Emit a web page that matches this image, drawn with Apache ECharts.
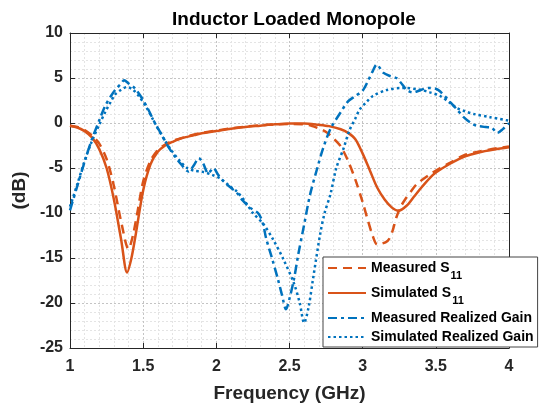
<!DOCTYPE html>
<html><head><meta charset="utf-8">
<script src="https://cdn.jsdelivr.net/npm/echarts@6/dist/echarts.min.js"></script>
<style>html,body{margin:0;padding:0;background:#fff}#c{width:540px;height:408px}</style>
</head><body><div id="c"></div>
<script>
const title = 'Inductor Loaded Monopole';
const xName = 'Frequency (GHz)';
const yName = '(dB)';
const xTicks = [1, 1.5, 2, 2.5, 3, 3.5, 4];
const yTicks = [-25, -20, -15, -10, -5, 0, 5, 10];

const seriesNames = ['Measured S11', 'Simulated S11', 'Measured Realized Gain', 'Simulated Realized Gain'];

const measS11F = [1.0,1.05,1.1,1.15,1.2,1.25,1.3,1.35,1.4,1.43,1.46,1.5,1.55,1.6,1.65,1.7,1.8,1.9,2.0,2.1,2.2,2.3,2.4,2.5,2.6,2.65,2.7,2.75,2.8,2.85,2.9,2.95,3.0,3.03,3.07,3.1,3.17,3.2,3.23,3.26,3.29,3.33,3.37,3.45,3.53,3.6,3.69,3.8,3.85,3.92,4.0];
const measS11V = [-0.3,-0.45,-0.8,-1.4,-2.3,-4.0,-7.0,-11.0,-14.0,-12.5,-10.0,-6.5,-4.2,-3.0,-2.4,-2.0,-1.5,-1.1,-0.85,-0.6,-0.4,-0.25,-0.15,-0.1,-0.15,-0.3,-0.6,-1.0,-1.7,-2.6,-4.2,-6.3,-8.8,-10.5,-12.6,-13.5,-13.1,-12.2,-10.5,-9.3,-8.5,-7.6,-6.8,-5.8,-5.0,-4.4,-3.6,-3.15,-3.0,-2.8,-2.6];

const simS11F = [1.0,1.05,1.1,1.15,1.2,1.25,1.3,1.35,1.39,1.42,1.45,1.5,1.55,1.6,1.65,1.7,1.76,1.85,1.9,2.0,2.1,2.2,2.3,2.4,2.5,2.6,2.7,2.77,2.85,2.9,2.95,3.0,3.05,3.1,3.15,3.2,3.245,3.3,3.35,3.4,3.46,3.5,3.6,3.7,3.8,3.9,4.0];
const simS11V = [-0.3,-0.5,-0.9,-1.6,-2.9,-5.0,-8.5,-13.0,-16.6,-15.0,-12.3,-7.5,-4.6,-3.2,-2.5,-2.1,-1.7,-1.35,-1.15,-0.9,-0.65,-0.45,-0.3,-0.15,-0.05,-0.05,-0.2,-0.35,-0.7,-1.1,-1.8,-3.4,-5.3,-7.2,-8.5,-9.4,-9.75,-9.2,-8.2,-7.2,-6.1,-5.5,-4.5,-3.7,-3.25,-2.95,-2.7];

const measGainF = [1.0,1.05,1.1,1.15,1.2,1.24,1.28,1.31,1.35,1.37,1.4,1.44,1.49,1.535,1.58,1.63,1.67,1.72,1.76,1.81,1.85,1.88,1.91,1.945,1.98,2.01,2.05,2.1,2.14,2.18,2.23,2.29,2.32,2.34,2.38,2.42,2.45,2.476,2.5,2.53,2.56,2.6,2.64,2.69,2.73,2.78,2.85,2.9,2.95,3.0,3.04,3.07,3.096,3.14,3.19,3.23,3.26,3.3,3.34,3.37,3.42,3.46,3.5,3.53,3.6,3.65,3.69,3.74,3.78,3.84,3.88,3.92,3.96,4.0];
const measGainV = [-9.7,-7.0,-4.3,-1.8,0.3,1.9,3.0,3.7,4.4,4.75,4.4,3.9,2.8,1.5,0.0,-1.4,-2.6,-3.8,-4.6,-5.4,-4.6,-3.9,-4.5,-5.6,-5.0,-5.7,-6.5,-7.2,-7.75,-8.6,-9.4,-10.1,-11.3,-12.8,-15.0,-17.3,-19.2,-20.7,-19.5,-17.4,-14.6,-11.3,-8.0,-5.0,-2.8,-0.65,1.2,2.4,3.0,3.6,4.8,5.8,6.5,5.6,5.2,5.0,4.5,3.7,3.4,3.5,3.8,3.9,3.8,3.5,2.3,1.4,0.65,0.0,-0.3,-0.45,-0.5,-1.1,-0.65,0.0];

const simGainF = [1.0,1.05,1.1,1.15,1.2,1.24,1.28,1.31,1.35,1.39,1.43,1.47,1.52,1.56,1.6,1.65,1.7,1.75,1.8,1.85,1.9,1.97,2.03,2.09,2.14,2.2,2.25,2.32,2.39,2.46,2.53,2.57,2.6,2.63,2.66,2.71,2.74,2.78,2.82,2.87,2.91,2.95,2.98,3.03,3.07,3.16,3.28,3.39,3.46,3.53,3.6,3.64,3.7,3.76,3.87,4.0];
const simGainV = [-9.3,-6.8,-4.2,-2.0,-0.2,1.2,2.4,3.2,3.7,4.0,3.7,3.0,1.8,0.6,-0.6,-2.0,-3.2,-4.2,-5.0,-5.3,-5.4,-5.75,-6.2,-7.0,-7.6,-8.8,-10.0,-11.2,-13.0,-15.2,-17.8,-20.0,-22.2,-20.5,-17.4,-12.3,-10.0,-7.9,-5.0,-2.8,-0.8,0.5,1.5,2.4,3.0,3.65,3.9,3.7,3.4,3.0,2.2,1.7,1.3,1.0,0.65,0.25];

const zip = (f, v) => f.map((x, i) => [x, v[i]]);
const orange = '#D95319', blue = '#0072BD', axisCol = '#262626';
const FONT = 'Liberation Sans, Arial, sans-serif';

const chart = echarts.init(document.getElementById('c'), null, {renderer: 'canvas'});
const xMin = xTicks[0], xMax = xTicks[xTicks.length - 1];
const yMin = yTicks[0], yMax = yTicks[yTicks.length - 1];
const baseX = {
  type: 'value', min: xMin, max: xMax, interval: 0.5,
  axisLine: {show: true, onZero: false, lineStyle: {color: axisCol, width: 1}},
  axisTick: {show: true, inside: true, length: 5, lineStyle: {color: axisCol}},
  minorTick: {show: false, splitNumber: 5},
  splitLine: {show: true, lineStyle: {color: '#c4c4c4', type: [2, 2], width: 1}},
  minorSplitLine: {show: true, lineStyle: {color: '#e4e4e4', type: [2, 2], width: 1}}
};
const baseY = {
  type: 'value', min: yMin, max: yMax, interval: 5,
  axisLine: {show: true, onZero: false, lineStyle: {color: axisCol, width: 1}},
  axisTick: {show: true, inside: true, length: 5, lineStyle: {color: axisCol}},
  minorTick: {show: false, splitNumber: 5},
  splitLine: {show: true, lineStyle: {color: '#c4c4c4', type: [2, 2], width: 1}},
  minorSplitLine: {show: true, lineStyle: {color: '#e4e4e4', type: [2, 2], width: 1}}
};

const lbl = {fontFamily: FONT, fontWeight: 'bold', fontSize: 16, color: '#262626'};
const nameStyle = {fontFamily: FONT, fontWeight: 'bold', fontSize: 19, color: '#262626'};
chart.setOption({
  animation: false,
  backgroundColor: '#fff',
  title: {text: title, left: 289, top: 5, textAlign: 'center',
    textStyle: {fontFamily: FONT, fontWeight: 'bold', fontSize: 19, color: '#000'}},
  grid: {left: 70, right: 31, top: 33, bottom: 55, containLabel: false},
  xAxis: [
    Object.assign({}, baseX, {position: 'bottom', name: xName, nameLocation: 'middle', nameGap: 36,
      nameTextStyle: nameStyle,
      axisLabel: Object.assign({margin: 11}, lbl)}),
    Object.assign({}, baseX, {position: 'top', axisLabel: {show: false},
      splitLine: {show: false}, minorSplitLine: {show: false}})
  ],
  yAxis: [
    Object.assign({}, baseY, {position: 'left', name: yName, nameLocation: 'middle', nameGap: 35,
      nameTextStyle: nameStyle,
      axisLabel: Object.assign({margin: 7}, lbl)}),
    Object.assign({}, baseY, {position: 'right', axisLabel: {show: false},
      splitLine: {show: false}, minorSplitLine: {show: false}})
  ],
  legend: {
    orient: 'vertical', left: 323, top: 257,
    data: seriesNames,
    backgroundColor: '#fff', borderColor: '#444', borderWidth: 1,
    padding: [4, 4, 3, 4], itemGap: 5, itemWidth: 38, itemHeight: 12,
    itemStyle: {opacity: 0},
    textStyle: {fontFamily: FONT, fontWeight: 'bold', fontSize: 14, color: '#000',
      rich: {
        t: {fontFamily: FONT, fontWeight: 'bold', fontSize: 14, color: '#000'},
        s: {fontFamily: FONT, fontWeight: 'bold', fontSize: 11, color: '#000', padding: [15, 0, 0, 1]}
      }},
    formatter: n => n.endsWith('S11') ? '{t|' + n.slice(0, -2) + '}{s|11}' : '{t|' + n + '}'
  },
  series: [
    {name: seriesNames[0], type: 'line', data: zip(measS11F, measS11V), showSymbol: false, symbol: 'none',
      smooth: 0.3, lineStyle: {color: orange, width: 2.5, type: [9, 6]}, itemStyle: {color: orange}},
    {name: seriesNames[1], type: 'line', data: zip(simS11F, simS11V), showSymbol: false, symbol: 'none',
      smooth: 0.3, lineStyle: {color: orange, width: 2.5, type: 'solid'}, itemStyle: {color: orange}},
    {name: seriesNames[2], type: 'line', data: zip(measGainF, measGainV), showSymbol: false, symbol: 'none',
      smooth: 0.3, lineStyle: {color: blue, width: 2.5, type: [9, 4, 3, 4]}, itemStyle: {color: blue}},
    {name: seriesNames[3], type: 'line', data: zip(simGainF, simGainV), showSymbol: false, symbol: 'none',
      smooth: 0.3, lineStyle: {color: blue, width: 2.5, type: [2.5, 3]}, itemStyle: {color: blue}}
  ]
});
</script></body></html>
